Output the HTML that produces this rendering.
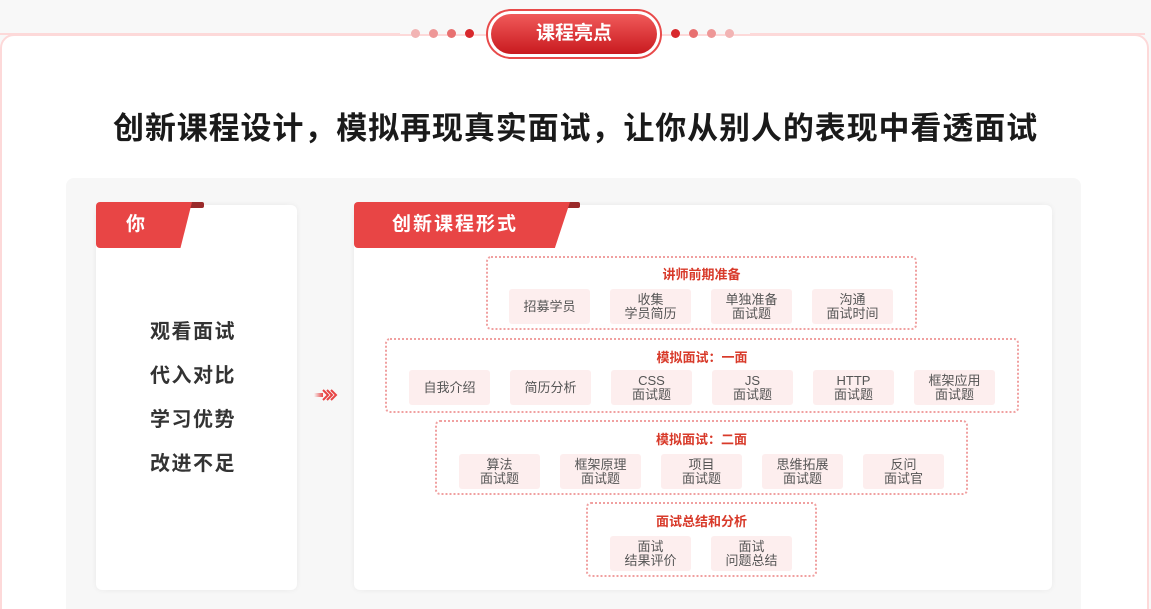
<!DOCTYPE html>
<html style="width:1151px;height:609px;overflow:hidden"><head><meta charset="utf-8"><style>
*{margin:0;padding:0;box-sizing:border-box}
body{width:1151px;height:609px;background:#f8f8f8;position:relative;overflow:hidden;font-family:"Liberation Sans","Noto Sans CJK SC",sans-serif}
.abs{position:absolute}
.card{left:0;top:34px;width:1149px;height:600px;background:#fff;border:2px solid #fdd9d9;border-radius:14px}
.dot{width:9px;height:9px;border-radius:50%;top:29px}
.badge{left:486px;top:9px;width:176px;height:50px;border-radius:25px;border:2px solid #e84a4a;background:#fff;padding:3px}
.badge div{width:100%;height:100%;border-radius:21px;background:linear-gradient(#f05a5a,#c91a1f);color:#fff;font-size:19px;font-weight:bold;text-align:center;line-height:40px}
h1{position:absolute;left:0;width:1151px;top:103px;text-align:center;font-size:31px;font-weight:bold;color:#1a1a1a;letter-spacing:0.9px}
.panel{left:66px;top:178px;width:1015px;height:440px;background:#f7f7f7;border-radius:8px}
.wc{background:#fff;border-radius:6px;box-shadow:0 0 6px rgba(0,0,0,.06)}
.tag{height:46px;color:#fff;font-weight:bold;font-size:19px;line-height:46px;background:#e84545;border-radius:4px 0 4px 4px}
.grp{border:2px dotted #f0a0a0;border-radius:5px}
.gt{position:absolute;left:0;width:100%;text-align:center;color:#d83a2a;font-size:13px;font-weight:bold}
.it{position:absolute;width:81px;height:35px;background:#fdeeee;border-radius:3px;color:#555;font-size:13px;line-height:14px;display:flex;align-items:center;justify-content:center;text-align:center}
.lt{left:150px;width:100px;text-align:left;font-size:20px;font-weight:bold;color:#333;letter-spacing:1.5px}
</style></head><body>
<div class="abs card"></div>
<div class="abs" style="left:0;top:0;width:1151px;height:33px;background:#f8f8f8"></div>
<div class="abs" style="left:0;top:33px;width:400px;height:2px;background:#fdd9d9"></div>
<div class="abs" style="left:750px;top:33px;width:395px;height:2px;background:#fdd9d9"></div>
<div class="abs dot" style="left:411px;background:#f2b4b4"></div>
<div class="abs dot" style="left:429px;background:#ee9797"></div>
<div class="abs dot" style="left:447px;background:#e87070"></div>
<div class="abs dot" style="left:465px;background:#d8282c"></div>
<div class="abs dot" style="left:671px;background:#d8282c"></div>
<div class="abs dot" style="left:689px;background:#e87070"></div>
<div class="abs dot" style="left:707px;background:#ee9797"></div>
<div class="abs dot" style="left:725px;background:#f2b4b4"></div>
<div class="abs badge"><div>课程亮点</div></div>
<h1>创新课程设计，模拟再现真实面试，让你从别人的表现中看透面试</h1>
<div class="abs panel"></div>
<div class="abs wc" style="left:96px;top:205px;width:201px;height:385px"></div>
<div class="abs" style="left:180px;top:202px;width:24px;height:6px;background:#9a2a2a;border-radius:2px"></div>
<div class="abs tag" style="left:96px;top:202px;width:96px;clip-path:polygon(0 0,100% 0,88% 100%,0 100%);padding-left:30px">你</div>
<div class="abs lt" style="top:315px">观看面试</div>
<div class="abs lt" style="top:359px">代入对比</div>
<div class="abs lt" style="top:403px">学习优势</div>
<div class="abs lt" style="top:447px">改进不足</div>
<svg class="abs" style="left:314px;top:388px" width="24" height="14" viewBox="0 0 24 14">
<defs><linearGradient id="g" x1="0" x2="1"><stop offset="0" stop-color="#e84545" stop-opacity="0"/><stop offset="1" stop-color="#e84545"/></linearGradient></defs>
<rect x="0" y="5" width="9" height="4" fill="url(#g)"/>
<path d="M9 2l5 5-5 5M13 2l5 5-5 5M17 2l5 5-5 5" fill="none" stroke="#e84545" stroke-width="2"/>
</svg>
<div class="abs wc" style="left:354px;top:205px;width:698px;height:385px"></div>
<div class="abs" style="left:556px;top:202px;width:24px;height:6px;background:#9a2a2a;border-radius:2px"></div>
<div class="abs tag" style="left:354px;top:202px;width:216px;clip-path:polygon(0 0,100% 0,93% 100%,0 100%);padding-left:38px;letter-spacing:2px">创新课程形式</div>

<div class="abs grp" style="left:486px;top:256px;width:431px;height:74px">
<div class="gt" style="top:6px">讲师前期准备</div>
<div class="it" style="left:21px;top:31px">招募学员</div>
<div class="it" style="left:122px;top:31px">收集<br>学员简历</div>
<div class="it" style="left:223px;top:31px">单独准备<br>面试题</div>
<div class="it" style="left:324px;top:31px">沟通<br>面试时间</div>
</div>
<div class="abs grp" style="left:385px;top:338px;width:634px;height:75px">
<div class="gt" style="top:7px">模拟面试：一面</div>
<div class="it" style="left:22px;top:30px">自我介绍</div>
<div class="it" style="left:123px;top:30px">简历分析</div>
<div class="it" style="left:224px;top:30px">CSS<br>面试题</div>
<div class="it" style="left:325px;top:30px">JS<br>面试题</div>
<div class="it" style="left:426px;top:30px">HTTP<br>面试题</div>
<div class="it" style="left:527px;top:30px">框架应用<br>面试题</div>
</div>
<div class="abs grp" style="left:435px;top:420px;width:533px;height:75px">
<div class="gt" style="top:7px">模拟面试：二面</div>
<div class="it" style="left:22px;top:32px">算法<br>面试题</div>
<div class="it" style="left:123px;top:32px">框架原理<br>面试题</div>
<div class="it" style="left:224px;top:32px">项目<br>面试题</div>
<div class="it" style="left:325px;top:32px">思维拓展<br>面试题</div>
<div class="it" style="left:426px;top:32px">反问<br>面试官</div>
</div>
<div class="abs grp" style="left:586px;top:502px;width:231px;height:75px">
<div class="gt" style="top:7px">面试总结和分析</div>
<div class="it" style="left:22px;top:32px">面试<br>结果评价</div>
<div class="it" style="left:123px;top:32px">面试<br>问题总结</div>
</div>
</body></html>
